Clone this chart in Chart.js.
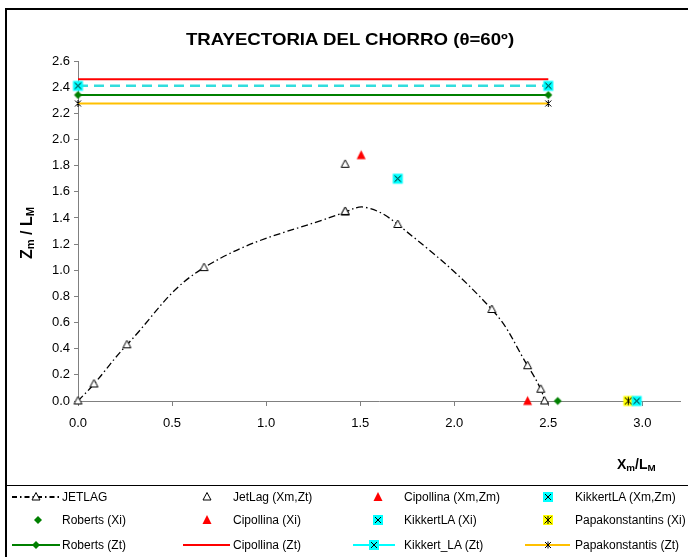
<!DOCTYPE html>
<html lang="es">
<head>
<meta charset="UTF-8">
<script src="https://cdn.jsdelivr.net/npm/chart.js@4.4.1/dist/chart.umd.min.js"></script>
<title>Trayectoria del chorro</title>
<style>
  body { margin: 0; overflow: hidden; background: #fff; font-family: "Liberation Sans", Arial, sans-serif; }
  #wrap { position: relative; width: 688px; height: 557px; overflow: hidden; }
  #c { position: absolute; left: 0; top: 0; }
  #frame { position: absolute; left: 5px; top: 8px; width: 720px; height: 620px; border: 2px solid #000; box-sizing: border-box; }
  #sep { position: absolute; left: 6px; top: 485px; width: 700px; border-top: 1px solid #000; }
  #title { position: absolute; left: 350px; top: 30px; font-weight: bold; font-size: 16.5px; white-space: nowrap;
           transform: translateX(-50%) scaleX(1.13); }
  #ytitle { position: absolute; left: 27px; top: 233px; font-weight: bold; font-size: 16px; white-space: nowrap;
            transform: translate(-50%, -50%) rotate(-90deg); }
  #xtitle { position: absolute; left: 617px; top: 456px; font-weight: bold; font-size: 14px; white-space: nowrap; }
  sub { font-size: 70%; vertical-align: -0.25em; }
  .lg { position: absolute; font-size: 12px; line-height: 14px; white-space: nowrap; }
  .ic { position: absolute; }
</style>
</head>
<body>
<div id="wrap">
  <canvas id="c" width="688" height="557"></canvas>
  <div id="frame"></div>
  <div id="sep"></div>
  <div id="title">TRAYECTORIA DEL CHORRO (θ=60º)</div>
  <div id="ytitle">Z<sub>m</sub> / L<sub>M</sub></div>
  <div id="xtitle">X<sub>m</sub>/L<sub>M</sub></div>
</div>
<script>
// ticks
const xTicks = [0, 0.5, 1.0, 1.5, 2.0, 2.5, 3.0];
const yTicks = [0, 0.2, 0.4, 0.6, 0.8, 1.0, 1.2, 1.4, 1.6, 1.8, 2.0, 2.2, 2.4, 2.6];

// JETLAG trajectory
const jetX = [0, 0.085, 0.26, 0.67, 1.42, 1.53, 1.70, 2.20, 2.39, 2.46, 2.48];
const jetZ = [0, 0.13, 0.43, 1.02, 1.445, 1.48, 1.35, 0.70, 0.27, 0.09, 0.0];
const jetMark = [1, 1, 1, 1, 1, 0, 1, 1, 1, 1, 1];

// point series
const jetlagXmZt = [[1.42, 1.81], [1.42, 1.45]];
const cipoXmZm = [[1.505, 1.88]];
const kikXmZm = [[1.70, 1.70]];
const robertsXi = [[2.55, 0]];
const cipoXi = [[2.39, 0]];
const kikXi = [[2.97, 0]];
const papaXi = [[2.925, 0]];

// Zt lines
const ztX = [0, 2.5];
const robertsZt = 2.34;
const cipoZt = 2.46;
const kikZt = 2.41;
const papaZt = 2.275;

const legendRows = [
  ['JETLAG', 'JetLag (Xm,Zt)', 'Cipollina (Xm,Zm)', 'KikkertLA (Xm,Zm)'],
  ['Roberts (Xi)', 'Cipollina (Xi)', 'KikkertLA (Xi)', 'Papakonstantins (Xi)'],
  ['Roberts (Zt)', 'Cipollina (Zt)', 'Kikkert_LA (Zt)', 'Papakonstantis (Zt)']
];

const RED = '#ff0000', GREEN = '#008000', CYAN = '#00ffff', CYANLINE = '#33dddd', GOLD = '#ffc000';

// marker drawing
function star(g, x, y, r) {
  g.strokeStyle = '#000'; g.lineWidth = 1;
  g.beginPath();
  g.moveTo(x - r, y - r); g.lineTo(x + r, y + r);
  g.moveTo(x - r, y + r); g.lineTo(x + r, y - r);
  g.moveTo(x, y - r - 0.5); g.lineTo(x, y + r + 0.5);
  g.stroke();
}
const markers = {
  triOpen(g, x, y) {
    g.beginPath(); g.moveTo(x, y - 4.5); g.lineTo(x + 4, y + 3); g.lineTo(x - 4, y + 3); g.closePath();
    g.fillStyle = '#fff'; g.fill(); g.strokeStyle = '#000'; g.lineWidth = 1; g.stroke();
  },
  triRed(g, x, y) {
    g.beginPath(); g.moveTo(x, y - 5); g.lineTo(x + 4.5, y + 4); g.lineTo(x - 4.5, y + 4); g.closePath();
    g.fillStyle = RED; g.fill();
  },
  diamond(g, x, y) {
    g.beginPath(); g.moveTo(x, y - 4); g.lineTo(x + 4, y); g.lineTo(x, y + 4); g.lineTo(x - 4, y); g.closePath();
    g.fillStyle = GREEN; g.fill();
  },
  cyanX(g, x, y) {
    g.fillStyle = CYAN; g.fillRect(x - 5, y - 5, 10, 10);
    g.strokeStyle = '#000'; g.lineWidth = 1;
    g.beginPath(); g.moveTo(x - 3, y - 3); g.lineTo(x + 3, y + 3); g.moveTo(x - 3, y + 3); g.lineTo(x + 3, y - 3); g.stroke();
  },
  yellowStar(g, x, y) {
    g.fillStyle = '#ffff00'; g.fillRect(x - 5, y - 5, 10, 10);
    star(g, x, y, 3.5);
  },
  star(g, x, y) { star(g, x, y, 3); }
};
function img(name) {
  const c = document.createElement('canvas');
  c.width = 13; c.height = 13;
  markers[name](c.getContext('2d'), 6.5, 6.5);
  return c;
}
const pts = (arr) => arr.map(p => ({ x: p[0], y: p[1] }));
const hline = (v) => ztX.map(x => ({ x: x, y: v }));

const ctx = document.getElementById('c').getContext('2d');
new Chart(ctx, {
  type: 'scatter',
  data: {
    datasets: [
      { label: 'KikkertLA (Xi)', data: pts(kikXi), pointStyle: img('cyanX') },
      { label: 'Papakonstantins (Xi)', data: pts(papaXi), pointStyle: img('yellowStar') },
      { label: 'Roberts (Xi)', data: pts(robertsXi), pointStyle: img('diamond') },
      { label: 'Cipollina (Xi)', data: pts(cipoXi), pointStyle: img('triRed') },
      { label: 'Cipollina (Xm,Zm)', data: pts(cipoXmZm), pointStyle: img('triRed') },
      { label: 'KikkertLA (Xm,Zm)', data: pts(kikXmZm), pointStyle: img('cyanX') },
      { label: 'JetLag (Xm,Zt)', data: pts(jetlagXmZt), pointStyle: img('triOpen') },
      { label: 'JETLAG', data: jetX.map((x, i) => ({ x: x, y: jetZ[i] })), showLine: true, tension: 0.4,
        borderColor: '#000', borderWidth: 1.3, borderDash: [7, 3, 1.5, 3], pointStyle: img('triOpen'),
        pointRadius: jetMark.map(m => m ? 4 : 0) },
      { label: 'Kikkert_LA (Zt)', data: hline(kikZt), showLine: true, borderColor: CYANLINE, borderWidth: 2.5,
        borderDash: [10, 6], pointStyle: img('cyanX') },
      { label: 'Papakonstantis (Zt)', data: hline(papaZt), showLine: true, borderColor: GOLD, borderWidth: 2,
        pointStyle: img('star') },
      { label: 'Roberts (Zt)', data: hline(robertsZt), showLine: true, borderColor: GREEN, borderWidth: 2,
        pointStyle: img('diamond') },
      { label: 'Cipollina (Zt)', data: hline(cipoZt), showLine: true, borderColor: RED, borderWidth: 2,
        pointRadius: 0 }
    ].map(d => Object.assign({ clip: false, pointRadius: 5 }, d))
  },
  options: {
    responsive: false,
    animation: false,
    events: [],
    layout: { padding: { left: 0, top: 61, right: 8, bottom: 116 } },
    plugins: { legend: { display: false }, tooltip: { enabled: false } },
    scales: {
      x: {
        type: 'linear', min: 0, max: 3.2,
        afterBuildTicks: s => { s.ticks = xTicks.map(v => ({ value: v })); },
        afterFit: s => { s.height = 40; },
        ticks: { color: '#000', padding: 10, font: { family: '"Liberation Sans", Arial', size: 13 },
                 callback: v => v.toFixed(1) },
        grid: { drawOnChartArea: false, tickLength: 5, color: '#808080' },
        border: { color: '#808080' }
      },
      y: {
        type: 'linear', min: 0, max: 2.6,
        afterBuildTicks: s => { s.ticks = yTicks.map(v => ({ value: v })); },
        afterFit: s => { s.width = 78; },
        ticks: { color: '#000', padding: 4, font: { family: '"Liberation Sans", Arial', size: 13 },
                 callback: v => v.toFixed(1) },
        grid: { drawOnChartArea: false, tickLength: 4, color: '#808080' },
        border: { color: '#808080' }
      }
    }
  }
});

// legend (html)
const colText = [62, 233, 404, 575];
const rowY = [497, 520, 545];
const icons = [
  [{ line: [12, 60], color: '#000', dash: [5, 3, 1.5, 3], mark: 'triOpen', mx: 36 }, { mark: 'triOpen', mx: 207 },
   { mark: 'triRed', mx: 378 }, { mark: 'cyanX', mx: 548 }],
  [{ mark: 'diamond', mx: 38 }, { mark: 'triRed', mx: 207 }, { mark: 'cyanX', mx: 378 }, { mark: 'yellowStar', mx: 548 }],
  [{ line: [12, 60], color: GREEN, mark: 'diamond', mx: 36 }, { line: [183, 230], color: RED, mx: 207 },
   { line: [353, 395], color: CYAN, mark: 'cyanX', mx: 374 }, { line: [525, 570], color: GOLD, mark: 'star', mx: 548 }]
];
const wrap = document.getElementById('wrap');
legendRows.forEach((row, r) => {
  row.forEach((label, c) => {
    const t = document.createElement('div');
    t.className = 'lg';
    t.textContent = label;
    t.style.left = colText[c] + 'px';
    t.style.top = (rowY[r] - 7) + 'px';
    wrap.appendChild(t);

    const ic = icons[r][c];
    const cv = document.createElement('canvas');
    const left = ic.line ? ic.line[0] : ic.mx - 8;
    const w = ic.line ? ic.line[1] - ic.line[0] : 16;
    cv.width = w; cv.height = 16;
    cv.className = 'ic';
    cv.style.left = left + 'px';
    cv.style.top = (rowY[r] - 8) + 'px';
    const g = cv.getContext('2d');
    if (ic.line) {
      g.strokeStyle = ic.color; g.lineWidth = 2;
      g.setLineDash(ic.dash || []);
      g.beginPath(); g.moveTo(0, 8); g.lineTo(w, 8); g.stroke();
      g.setLineDash([]);
    }
    if (ic.mark) markers[ic.mark](g, ic.mx - left, 8);
    wrap.appendChild(cv);
  });
});
</script>
</body>
</html>
